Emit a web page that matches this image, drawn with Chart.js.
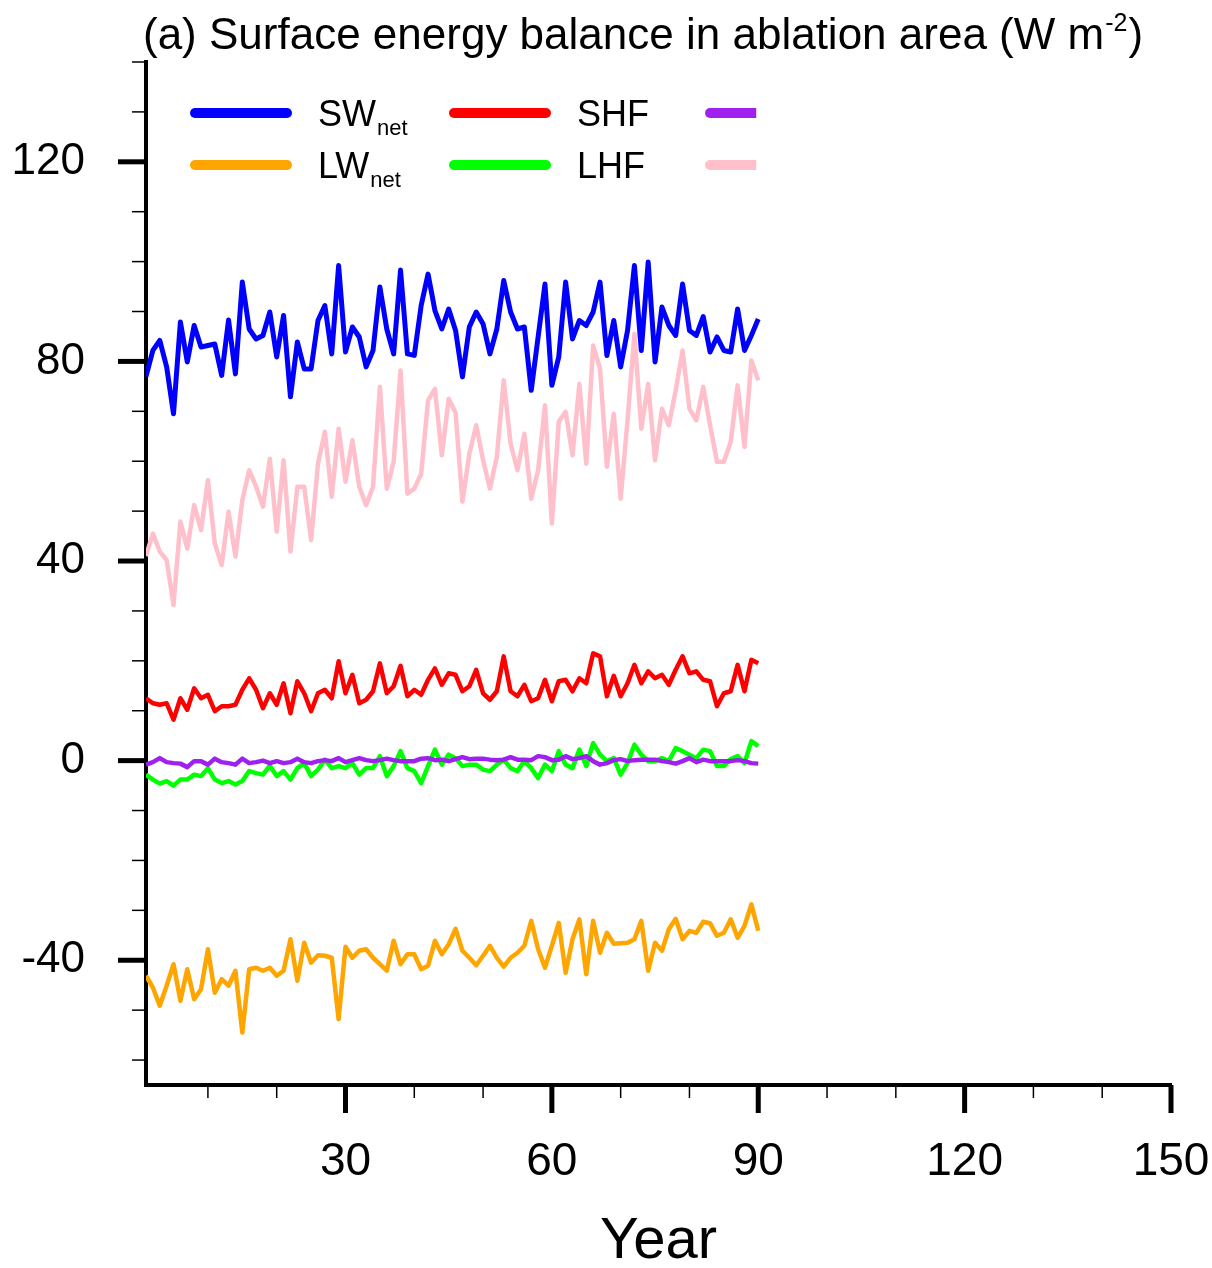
<!DOCTYPE html>
<html>
<head>
<meta charset="utf-8">
<script src="https://cdn.jsdelivr.net/npm/chart.js@4.4.1/dist/chart.umd.min.js"></script>
<style>
  html, body { margin: 0; padding: 0; background: #fff; }
</style>
</head>
<body>
<canvas id="seb" width="1212" height="1268"></canvas>
<script>
// model years shown (1..90)
const years = Array.from({ length: 90 }, (_, i) => i + 1);

// annual means, W m-2
const swNet = [77, 82.2, 84.2, 78.9, 69.5, 87.9, 79.9, 87.2, 82.9, 83.2,
  83.5, 77.2, 88.3, 77.5, 95.9, 86.5, 84.5, 85.2, 89.9, 80.9,
  89.2, 72.9, 83.9, 78.5, 78.5, 88.2, 91.2, 81.5, 99.2, 81.9,
  86.9, 84.9, 78.9, 82.2, 94.9, 86.5, 81.5, 98.3, 81.5, 81.2,
  91.2, 97.5, 90.2, 86.5, 90.5, 86.2, 76.9, 86.9, 89.9, 87.5,
  81.5, 86.5, 96.2, 89.9, 86.5, 86.9, 74.2, 84.9, 95.5, 75.2,
  80.9, 95.9, 84.5, 88.2, 87.2, 89.9, 95.9, 81.2, 88.2, 78.9,
  86.2, 99.2, 82.2, 99.9, 79.9, 90.9, 87.2, 85.2, 95.5, 86.2,
  85.2, 89, 81.9, 84.9, 82.2, 81.9, 90.5, 82.2, 85.2, 88.5];

const lwNet = [-43.1, -45.5, -49.1, -45.1, -40.8, -48.1, -41.8, -47.8, -45.8, -37.8,
  -46.5, -43.8, -45.1, -42.1, -54.5, -41.8, -41.5, -42.1, -41.5, -43.1,
  -42.1, -35.8, -44.1, -36.5, -40.5, -39, -39.1, -39.5, -51.8, -37.3,
  -39.5, -38.1, -37.8, -39.5, -40.8, -42.1, -36.1, -40.8, -38.8, -38.8,
  -41.8, -41.1, -36.1, -38.8, -36.8, -33.7, -38.1, -39.5, -41, -39.1,
  -37.1, -39.5, -41.3, -39.5, -38.5, -37.1, -32.1, -37.8, -41.5, -37.1,
  -32.5, -42.5, -35.8, -31.8, -42.8, -32.1, -38.5, -34.5, -36.7, -36.6,
  -36.5, -35.8, -32.1, -42.1, -36.5, -38.1, -33.8, -31.7, -35.8, -34.1,
  -34.5, -32.3, -32.6, -35.1, -34.5, -31.8, -35.5, -33.1, -28.8, -34.1];

const shf = [12.5, 11.5, 11.2, 11.5, 8.2, 12.5, 10.2, 14.5, 12.5, 13.2,
  9.9, 10.9, 10.9, 11.2, 14.2, 16.5, 14.2, 10.5, 13.5, 11.2,
  15.5, 9.5, 15.9, 13.5, 9.9, 13.5, 14.2, 12.5, 19.9, 13.5,
  17.2, 11.5, 12.2, 13.9, 19.5, 13.5, 14.9, 19, 12.9, 14.2,
  13.2, 16.2, 18.5, 15.2, 17.5, 17.2, 13.9, 14.9, 18.2, 13.5,
  12.2, 13.9, 20.9, 13.9, 12.9, 15.2, 11.9, 12.5, 16.2, 11.9,
  15.9, 16.2, 13.9, 16.5, 15.5, 21.5, 20.9, 12.9, 17, 12.9,
  15.5, 19.2, 15.5, 17.9, 16.5, 17.2, 15.2, 18.2, 20.9, 17.5,
  17.9, 16.2, 15.9, 10.9, 13.5, 13.9, 19.2, 13.9, 20.2, 19.5];

const lhf = [-2.8, -3.8, -4.6, -4.1, -5, -3.8, -3.8, -2.8, -3.1, -1.5,
  -3.8, -4.5, -4.1, -4.8, -4.1, -2.1, -2.5, -2.8, -1, -3.1,
  -2.1, -3.8, -1.5, -0.5, -3.1, -1.8, 0.2, -1.5, -1.1, -1.5,
  -0.5, -2.8, -1.5, -1.5, 0.9, -3.1, -1.1, 1.9, -1.5, -2.1,
  -4.5, -1.1, 2.2, -0.8, 1.2, 0.5, -1.1, -0.8, -0.8, -1.8,
  -2.1, -0.8, 0.2, -1.5, -2.1, -0.1, -1.5, -3.5, -0.8, -2.1,
  1.9, -0.8, -1.5, 2.2, -1.1, 3.5, 1.2, -0.1, 0.5, -2.8,
  -0.5, 3.2, 1.2, -0.1, -0.1, 0.5, -0.1, 2.5, 1.9, 1.2,
  0.5, 2.2, 1.9, -1.1, -1.1, 0.3, 0.9, -0.5, 3.9, 2.9];

const purpleFlux = [-0.8, -0.3, 0.5, -0.3, -0.5, -0.6, -1.3, -0.1, -0.1, -0.8,
  0.4, -0.3, -0.5, -0.8, 0.4, -0.5, -0.3, 0, -0.5, -0.1,
  -0.5, -0.3, 0.4, -0.3, -0.5, -0.1, 0.1, -0.1, 0.5, -0.3,
  0.1, 0.5, 0.1, -0.1, 0.1, 0.4, 0.1, -0.1, -0.1, -0.1,
  0.4, 0.5, 0.1, 0.2, -0.1, 0.3, 0.7, 0.3, 0.4, 0.4,
  0.2, 0.1, 0.2, 0.7, 0.2, 0.2, 0.1, 0.9, 0.7, 0.1,
  0.2, 0.9, 0.3, 0.5, 0.9, -0.1, -0.8, -0.5, 0.1, 0.3,
  -0.1, 0.1, 0.2, 0.2, 0.2, -0.1, -0.3, -0.6, -0.1, 0.5,
  -0.3, 0.2, -0.1, -0.1, -0.1, -0.1, 0.1, -0.1, -0.5, -0.6];

const pinkFlux = [41, 45.5, 41.9, 40.2, 31.2, 47.9, 42.5, 51.2, 46.2, 56.2,
  43.5, 39.2, 49.9, 40.9, 52.2, 58.2, 54.9, 50.9, 60.5, 45.9,
  60.2, 41.9, 54.9, 54.9, 44.2, 59.5, 65.9, 52.9, 66.5, 55.9,
  64.2, 54.9, 51.2, 54.9, 74.9, 54.5, 59.9, 78.2, 53.5, 54.5,
  57.5, 72.2, 74.5, 61.2, 72.5, 69.7, 51.9, 61.5, 67.2, 60.2,
  54.5, 60.9, 76.2, 63.5, 58.2, 65.5, 52.5, 58.2, 71.2, 47.5,
  67.9, 69.9, 61.2, 75.5, 59.5, 83.2, 78.5, 58.9, 69.5, 52.5,
  68.2, 85.5, 66.5, 75.5, 60.2, 70.5, 67.2, 74.2, 82.2, 70.5,
  68.2, 74.9, 67.2, 59.9, 59.9, 63.9, 75.2, 62.9, 80.2, 76.2];

// axis ticks
const xTickValues = [10, 20, 30, 40, 50, 60, 70, 80, 90, 100, 110, 120, 130, 140, 150];
const xLabelled = [30, 60, 90, 120, 150];
const yTickValues = [-60, -50, -40, -30, -20, -10, 0, 10, 20, 30, 40, 50, 60, 70, 80, 90, 100, 110, 120, 130, 140];
const yLabelled = [-40, 0, 40, 80, 120];

const FONT = '"Liberation Sans", Arial, Helvetica, sans-serif';

const series = [
  { name: 'SW', sub: 'net', data: swNet, color: '#0000ff', width: 5, col: 0, row: 0 },
  { name: 'LW', sub: 'net', data: lwNet, color: '#ffa500', width: 4.5, col: 0, row: 1 },
  { name: 'SHF', sub: '', data: shf, color: '#ff0000', width: 4.5, col: 1, row: 0 },
  { name: 'G', sub: '', data: purpleFlux, color: '#a020f0', width: 4.5, col: 2, row: 0 },
  { name: 'LHF', sub: '', data: lhf, color: '#00ff00', width: 4.5, col: 1, row: 1 },
  { name: 'M', sub: '', data: pinkFlux, color: '#ffc0cb', width: 4.5, col: 2, row: 1 }
];

// keep the plot box fixed: no extra room for edge labels
function fixPadding(scale) {
  scale.paddingTop = 0;
  scale.paddingBottom = 0;
  scale.paddingLeft = 0;
  scale.paddingRight = 0;
}

// tick marks: long for labelled values, short otherwise
const tickMarks = {
  id: 'tickMarks',
  afterDraw(chart) {
    const { ctx, chartArea, scales: { x, y } } = chart;
    ctx.save();
    ctx.strokeStyle = '#000';
    xTickValues.forEach(v => {
      const major = xLabelled.includes(v);
      const px = x.getPixelForValue(v);
      ctx.lineWidth = major ? 5 : 1.5;
      ctx.beginPath();
      ctx.moveTo(px, chartArea.bottom);
      ctx.lineTo(px, chartArea.bottom + (major ? 28 : 13));
      ctx.stroke();
    });
    yTickValues.forEach(v => {
      const major = yLabelled.includes(v);
      const py = y.getPixelForValue(v);
      ctx.lineWidth = major ? 5 : 1.5;
      ctx.beginPath();
      ctx.moveTo(chartArea.left, py);
      ctx.lineTo(chartArea.left - (major ? 28 : 14), py);
      ctx.stroke();
    });
    ctx.restore();
  }
};

// title with superscript units
const titleText = {
  id: 'titleText',
  afterDraw(chart) {
    const { ctx } = chart;
    const main = '(a) Surface energy balance in ablation area (W m';
    ctx.save();
    ctx.fillStyle = '#000';
    ctx.textBaseline = 'alphabetic';
    ctx.textAlign = 'left';
    let xPos = 143;
    const base = 49;
    ctx.font = '44px ' + FONT;
    ctx.fillText(main, xPos, base);
    xPos += ctx.measureText(main).width;
    ctx.font = '25px ' + FONT;
    ctx.fillText('-2', xPos + 1, base - 18);
    xPos += ctx.measureText('-2').width + 2;
    ctx.font = '44px ' + FONT;
    ctx.fillText(')', xPos, base);
    ctx.restore();
  }
};

// legend in three columns, last column cut at year 90
const legendBox = {
  id: 'legendBox',
  afterDraw(chart) {
    const { ctx, scales: { x } } = chart;
    const colX = [190, 449, 705];
    const rowY = [113, 165];
    const lineLen = 102;
    const cut = x.getPixelForValue(90) - 2;
    ctx.save();
    series.forEach(s => {
      const x0 = colX[s.col];
      const yy = rowY[s.row];
      ctx.save();
      ctx.beginPath();
      ctx.rect(0, 0, cut, chart.height);
      ctx.clip();
      ctx.strokeStyle = s.color;
      ctx.lineWidth = 10;
      ctx.lineCap = 'round';
      ctx.beginPath();
      ctx.moveTo(x0 + 5, yy);
      ctx.lineTo(x0 + lineLen - 5, yy);
      ctx.stroke();
      ctx.restore();
      if (s.col === 2) return;
      const tx = x0 + lineLen + 26;
      ctx.fillStyle = '#000';
      ctx.textAlign = 'left';
      ctx.textBaseline = 'alphabetic';
      ctx.font = '36px ' + FONT;
      ctx.fillText(s.name, tx, yy + 13);
      if (s.sub) {
        const w = ctx.measureText(s.name).width;
        ctx.font = '22px ' + FONT;
        ctx.fillText(s.sub, tx + w + 1, yy + 22);
      }
    });
    ctx.restore();
  }
};

new Chart(document.getElementById('seb'), {
  type: 'line',
  data: {
    datasets: series.map(s => ({
      label: s.name,
      data: years.map((yr, i) => ({ x: yr, y: s.data[i] })),
      borderColor: s.color,
      borderWidth: s.width,
      borderJoinStyle: 'round',
      pointRadius: 0,
      tension: 0,
      fill: false
    }))
  },
  options: {
    responsive: false,
    animation: false,
    devicePixelRatio: 1,
    layout: { padding: { top: 62, right: 41, bottom: 0, left: 0 } },
    plugins: {
      legend: { display: false },
      title: { display: false },
      tooltip: { enabled: false }
    },
    scales: {
      x: {
        type: 'linear',
        min: 1,
        max: 150,
        afterFit: scale => { scale.height = 183; fixPadding(scale); },
        afterBuildTicks: scale => { scale.ticks = xTickValues.map(v => ({ value: v })); },
        grid: { display: false, drawTicks: false },
        border: { display: true, color: '#000', width: 4 },
        ticks: {
          autoSkip: false,
          maxRotation: 0,
          padding: 50,
          color: '#000',
          font: { family: FONT, size: 46 },
          callback: v => xLabelled.includes(v) ? String(v) : ''
        },
        title: {
          display: true,
          text: 'Year',
          color: '#000',
          padding: 0,
          font: { family: FONT, size: 58, lineHeight: 0.9 }
        }
      },
      y: {
        min: -65,
        max: 140,
        afterFit: scale => { scale.width = 146; fixPadding(scale); },
        afterBuildTicks: scale => { scale.ticks = yTickValues.map(v => ({ value: v })); },
        grid: { display: false, drawTicks: false },
        border: { display: true, color: '#000', width: 4 },
        ticks: {
          autoSkip: false,
          padding: 61,
          color: '#000',
          font: { family: FONT, size: 44 },
          callback: v => yLabelled.includes(v) ? String(v) : ''
        }
      }
    }
  },
  plugins: [tickMarks, titleText, legendBox]
});
</script>
</body>
</html>
